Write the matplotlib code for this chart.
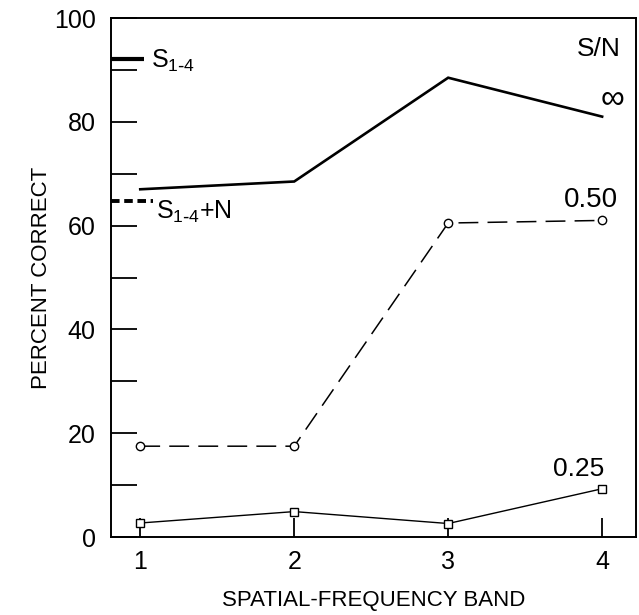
import matplotlib
matplotlib.use("Agg")
import matplotlib.pyplot as plt

plt.rcParams['font.family'] = ['Liberation Sans', 'DejaVu Sans']

# spatial-frequency bands
bands = [1, 2, 3, 4]

# percent correct for each S/N level
sn_inf = [67, 68.5, 88.5, 81]
sn_050 = [17.5, 17.5, 60.5, 61]
sn_025 = [2.7, 4.9, 2.6, 9.3]

# reference levels, all bands combined
ref_s14 = 92.2
ref_s14_noise = 64.8

fig = plt.figure(figsize=(6.39, 6.15), dpi=100)
ax = fig.add_axes([0.1737, 0.1268, 0.8216, 0.8439])

ax.plot(bands, sn_inf, color='black', lw=1.9, solid_joinstyle='miter')
ax.plot(bands, sn_050, color='black', lw=1.1, linestyle=(0, (13, 6)),
        marker='o', markersize=6, markerfacecolor='white', markeredgewidth=1.0)
ax.plot(bands, sn_025, color='black', lw=1.0,
        marker='s', markersize=6, markerfacecolor='white', markeredgewidth=1.0)

# short reference marks at the left edge
ax.plot([0.81, 1.025], [ref_s14, ref_s14], color='black', lw=3.0, solid_capstyle='butt')
ax.plot([0.81, 1.08], [ref_s14_noise, ref_s14_noise], color='black', lw=2.8,
        linestyle=(0, (2.2, 1.2)), dash_capstyle='butt')

ax.text(1.07, ref_s14 - 0.5, r'S$_{\mathregular{1\text{-}4}}$', fontsize=18, va='center', ha='left')
ax.text(1.1, ref_s14_noise - 2.2, r'S$_{\mathregular{1\text{-}4}}$+N', fontsize=18, va='center', ha='left')

ax.text(3.98, 94.0, 'S/N', fontsize=19, ha='center', va='center')
ax.text(4.07, 84.3, '∞', fontsize=24, ha='center', va='center')
ax.text(3.93, 65.0, '0.50', fontsize=20, ha='center', va='center')
ax.text(3.85, 13.2, '0.25', fontsize=19, ha='center', va='center')

ax.set_xlim(0.81, 4.22)
ax.set_ylim(0, 100)
ax.set_xticks(bands)
ax.set_yticks(range(0, 101, 20))
ax.set_yticks(range(10, 100, 20), minor=True)
ax.tick_params(axis='y', which='both', direction='in', length=19, width=1.3,
               labelsize=18, pad=11)
ax.tick_params(axis='x', direction='in', length=14, width=1.3, labelsize=18, pad=9)

for side in ['left', 'bottom', 'top', 'right']:
    ax.spines[side].set_linewidth(1.4)

ax.set_ylabel('PERCENT CORRECT', fontsize=16, labelpad=1)
ax.set_xlabel('SPATIAL-FREQUENCY BAND', fontsize=16, labelpad=12)

fig.savefig('out.png', dpi=100)
